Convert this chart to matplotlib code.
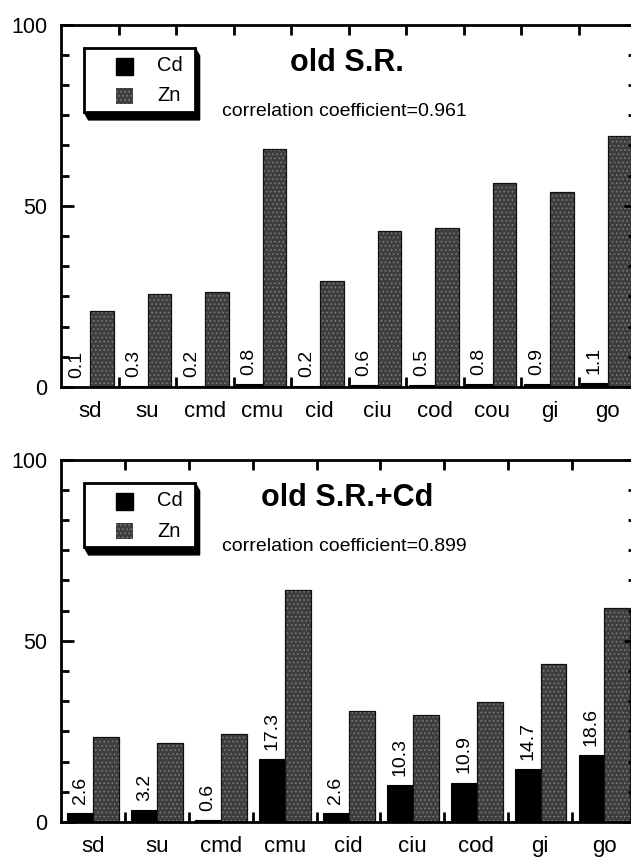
import matplotlib
matplotlib.use("Agg")
import numpy as np
import matplotlib.pyplot as plt
from matplotlib.patches import Rectangle, Polygon
from matplotlib.ticker import MultipleLocator, FixedLocator

plt.rcParams['font.family'] = ['Liberation Sans', 'DejaVu Sans']
plt.rcParams['hatch.color'] = '#808080'
plt.rcParams['hatch.linewidth'] = 0.6

# upper panel: old S.R.
sites_old = ["sd", "su", "cmd", "cmu", "cid", "ciu", "cod", "cou", "gi", "go"]
cd_old = [0.1, 0.3, 0.2, 0.8, 0.2, 0.6, 0.5, 0.8, 0.9, 1.1]
zn_old = [21.0, 25.7, 26.3, 65.7, 29.3, 43.0, 43.9, 56.2, 53.7, 69.3]
r_old = "0.961"

# lower panel: old S.R.+Cd
sites_cd = ["sd", "su", "cmd", "cmu", "cid", "ciu", "cod", "gi", "go"]
cd_cd = [2.6, 3.2, 0.6, 17.3, 2.6, 10.3, 10.9, 14.7, 18.6]
zn_cd = [23.5, 21.7, 24.3, 64.1, 30.7, 29.4, 33.1, 43.6, 59.0]
r_cd = "0.899"

ZN_FACE = '#3e3e3e'


def draw_legend(ax):
    # white box with a black drop shadow, in axes fraction
    x0, x1, y0, y1 = 0.040, 0.233, 0.759, 0.936
    dx, dy = 0.008, 0.022
    shadow = Polygon([(x1, y1), (x1 + dx, y1 - dy), (x1 + dx, y0 - dy),
                      (x0 + dx, y0 - dy), (x0, y0)],
                     closed=True, transform=ax.transAxes, color='black', zorder=5)
    ax.add_patch(shadow)
    ax.add_patch(Rectangle((x0, y0), x1 - x0, y1 - y0, transform=ax.transAxes,
                           facecolor='white', edgecolor='black', lw=2, zorder=6))
    ax.add_patch(Rectangle((0.096, 0.862), 0.030, 0.047, transform=ax.transAxes,
                           facecolor='black', edgecolor='black', zorder=7))
    ax.add_patch(Rectangle((0.096, 0.781), 0.030, 0.044, transform=ax.transAxes,
                           facecolor=ZN_FACE, hatch='....', lw=0, zorder=7))
    ax.text(0.167, 0.886, "Cd", transform=ax.transAxes, fontsize=14.5,
            va='center', ha='left', zorder=8)
    ax.text(0.167, 0.803, "Zn", transform=ax.transAxes, fontsize=14.5,
            va='center', ha='left', zorder=8)


def draw_panel(ax, sites, cd, zn, title, r, cd_span, zn_span):
    n = len(sites)
    x = np.arange(n)
    cd_w = cd_span[1] - cd_span[0]
    zn_w = zn_span[1] - zn_span[0]

    ax.bar(x + cd_span[0], cd, width=cd_w, align='edge', color='black',
           edgecolor='black', lw=0.8)
    ax.bar(x + zn_span[0], zn, width=zn_w, align='edge', color=ZN_FACE,
           hatch='....', linewidth=0)
    ax.bar(x + zn_span[0], zn, width=zn_w, align='edge', fill=False,
           edgecolor='#111111', lw=0.9)

    for xi, v in zip(x, cd):
        ax.text(xi + cd_span[0] + cd_w / 2, v + 2.5, f"{v:.1f}", rotation=90,
                ha='center', va='bottom', fontsize=14)

    ax.set_xlim(0, n)
    ax.set_ylim(0, 100)
    ax.set_xticks(x + 0.5)
    ax.set_xticklabels(sites, fontsize=16)
    ax.xaxis.set_minor_locator(FixedLocator(np.arange(1, n)))
    ax.tick_params(axis='x', which='major', length=0, pad=10)
    ax.tick_params(axis='x', which='minor', direction='in', length=7, width=2,
                   top=True, bottom=True)

    ax.set_yticks([0, 50, 100])
    ax.yaxis.set_minor_locator(MultipleLocator(100 / 12))
    ax.tick_params(axis='y', which='both', direction='in', left=True, right=True,
                   width=2, labelsize=15.5, pad=10)
    ax.tick_params(axis='y', which='major', length=9)
    ax.tick_params(axis='y', which='minor', length=6)
    for s in ax.spines.values():
        s.set_linewidth(2)

    ax.text(0.497, 0.894, title, transform=ax.transAxes, fontsize=22,
            fontweight='bold', ha='center', va='center')
    ax.text(0.492, 0.760, f"correlation coefficient={r}", transform=ax.transAxes,
            fontsize=14, ha='center', va='center')
    draw_legend(ax)


fig = plt.figure(figsize=(6.31, 8.57), dpi=100)
ax1 = fig.add_axes([0.0967, 0.5484, 0.9113, 0.4229])
ax2 = fig.add_axes([0.0967, 0.0408, 0.9113, 0.4229])

draw_panel(ax1, sites_old, cd_old, zn_old, "old S.R.", r_old, (0.05, 0.495), (0.505, 0.92))
draw_panel(ax2, sites_cd, cd_cd, zn_cd, "old S.R.+Cd", r_cd, (0.10, 0.505), (0.505, 0.91))

fig.savefig("out.png", dpi=100)
